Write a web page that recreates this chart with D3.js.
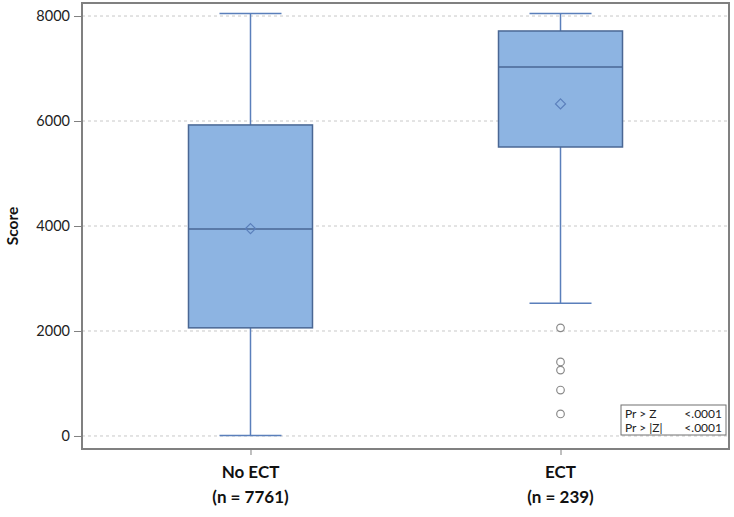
<!DOCTYPE html>
<html>
<head>
<meta charset="utf-8">
<script src="https://cdn.jsdelivr.net/npm/d3@7"></script>
<style>
  body { margin: 0; background: #fff; }
  svg { display: block; }
</style>
</head>
<body>
<svg id="chart"></svg>
<script>
const groups = ['No ECT', 'ECT']
const groupN = ['(n = 7761)', '(n = 239)']
const whiskerLow = [10, 2530]
const q1 = [2060, 5505]
const median = [3945, 7030]
const q3 = [5925, 7715]
const whiskerHigh = [8050, 8050]
const means = [3950, 6325]
const outliers = [[], [2060, 1410, 1255, 875, 420]]
const yTicks = [0, 2000, 4000, 6000, 8000]
const statRows = [['Pr > Z', '<.0001'], ['Pr > |Z|', '<.0001']]

const width = 734
const height = 517
const plotLeft = 82, plotRight = 729, plotTop = 3, plotBottom = 449

const svg = d3.select('#chart')
  .attr('width', width)
  .attr('height', height)

const font = 'Lato, "Open Sans", sans-serif'
const boxFill = '#8db4e2'
const boxStroke = '#4a6794'
const lineColor = '#5a7fbb'

const y = d3.scaleLinear().domain([-248, 8248]).range([plotBottom, plotTop])
const x = d3.scalePoint().domain(groups).range([plotLeft, plotRight]).padding(0.5435)
const step = x.step()
const boxW = step * 0.4
const capW = boxW / 2

// gridlines
svg.append('g')
  .selectAll('line')
  .data(yTicks)
  .join('line')
  .attr('x1', plotLeft)
  .attr('x2', plotRight)
  .attr('y1', d => y(d))
  .attr('y2', d => y(d))
  .attr('stroke', '#c8c8c8')
  .attr('stroke-width', 1)
  .attr('stroke-dasharray', '3,3')

// y axis
const yAxis = svg.append('g')
  .attr('transform', `translate(${plotLeft},0)`)
  .call(d3.axisLeft(y).tickValues(yTicks).tickSize(8).tickPadding(4).tickFormat(d3.format('d')))
yAxis.select('.domain').remove()
yAxis.selectAll('line').attr('stroke', '#808080')
yAxis.selectAll('text')
  .attr('font-family', font)
  .attr('font-size', '14.5px')
  .attr('fill', '#222')

// x axis
const xAxis = svg.append('g')
  .attr('transform', `translate(0,${plotBottom})`)
  .call(d3.axisBottom(x).tickSize(6).tickFormat(''))
xAxis.select('.domain').remove()
xAxis.selectAll('line').attr('stroke', '#808080')

groups.forEach((g, i) => {
  const cx = x(g)
  svg.append('text')
    .attr('x', cx)
    .attr('y', 478)
    .attr('text-anchor', 'middle')
    .attr('font-family', font)
    .attr('font-weight', 'bold')
    .attr('font-size', '17px')
    .attr('fill', '#111')
    .text(g)
  svg.append('text')
    .attr('x', cx)
    .attr('y', 503)
    .attr('text-anchor', 'middle')
    .attr('font-family', font)
    .attr('font-weight', 'bold')
    .attr('font-size', '17px')
    .attr('fill', '#111')
    .text(groupN[i])
})

// y label
svg.append('text')
  .attr('transform', `translate(18,${y(4000)}) rotate(-90)`)
  .attr('text-anchor', 'middle')
  .attr('font-family', font)
  .attr('font-weight', 'bold')
  .attr('font-size', '15.5px')
  .attr('fill', '#111')
  .text('Score')

// boxes
groups.forEach((g, i) => {
  const cx = x(g)
  // whiskers
  svg.append('line')
    .attr('x1', cx).attr('x2', cx)
    .attr('y1', y(whiskerHigh[i])).attr('y2', y(q3[i]))
    .attr('stroke', lineColor).attr('stroke-width', 1.5)
  svg.append('line')
    .attr('x1', cx).attr('x2', cx)
    .attr('y1', y(q1[i])).attr('y2', y(whiskerLow[i]))
    .attr('stroke', lineColor).attr('stroke-width', 1.5)
  ;[whiskerHigh[i], whiskerLow[i]].forEach(v => {
    svg.append('line')
      .attr('x1', cx - capW / 2).attr('x2', cx + capW / 2)
      .attr('y1', y(v)).attr('y2', y(v))
      .attr('stroke', lineColor).attr('stroke-width', 1.5)
  })

  svg.append('rect')
    .attr('x', cx - boxW / 2)
    .attr('y', y(q3[i]))
    .attr('width', boxW)
    .attr('height', y(q1[i]) - y(q3[i]))
    .attr('fill', boxFill)
    .attr('stroke', boxStroke)
    .attr('stroke-width', 1.5)

  svg.append('line')
    .attr('x1', cx - boxW / 2).attr('x2', cx + boxW / 2)
    .attr('y1', y(median[i])).attr('y2', y(median[i]))
    .attr('stroke', boxStroke).attr('stroke-width', 1.5)

  // mean diamond
  const my = y(means[i])
  svg.append('path')
    .attr('d', `M${cx},${my - 5}L${cx + 5},${my}L${cx},${my + 5}L${cx - 5},${my}Z`)
    .attr('fill', 'none')
    .attr('stroke', lineColor)
    .attr('stroke-width', 1.2)

  svg.append('g')
    .selectAll('circle')
    .data(outliers[i])
    .join('circle')
    .attr('cx', cx)
    .attr('cy', d => y(d))
    .attr('r', 3.8)
    .attr('fill', 'none')
    .attr('stroke', '#8a8a8a')
    .attr('stroke-width', 1.2)
})

// frame
svg.append('rect')
  .attr('x', plotLeft)
  .attr('y', plotTop)
  .attr('width', plotRight - plotLeft)
  .attr('height', plotBottom - plotTop)
  .attr('fill', 'none')
  .attr('stroke', '#808080')
  .attr('stroke-width', 2)

// stats inset
const inset = svg.append('g').attr('transform', 'translate(621,405)')
inset.append('rect')
  .attr('width', 105).attr('height', 30)
  .attr('fill', '#fff')
  .attr('stroke', '#707070')
  .attr('stroke-width', 1)
statRows.forEach((r, i) => {
  inset.append('text')
    .attr('x', 4).attr('y', 13 + i * 14)
    .attr('font-family', font).attr('font-size', '12px').attr('fill', '#222')
    .text(r[0])
  inset.append('text')
    .attr('x', 101).attr('y', 13 + i * 14)
    .attr('text-anchor', 'end')
    .attr('font-family', font).attr('font-size', '12px').attr('fill', '#222')
    .text(r[1])
})
</script>
</body>
</html>
